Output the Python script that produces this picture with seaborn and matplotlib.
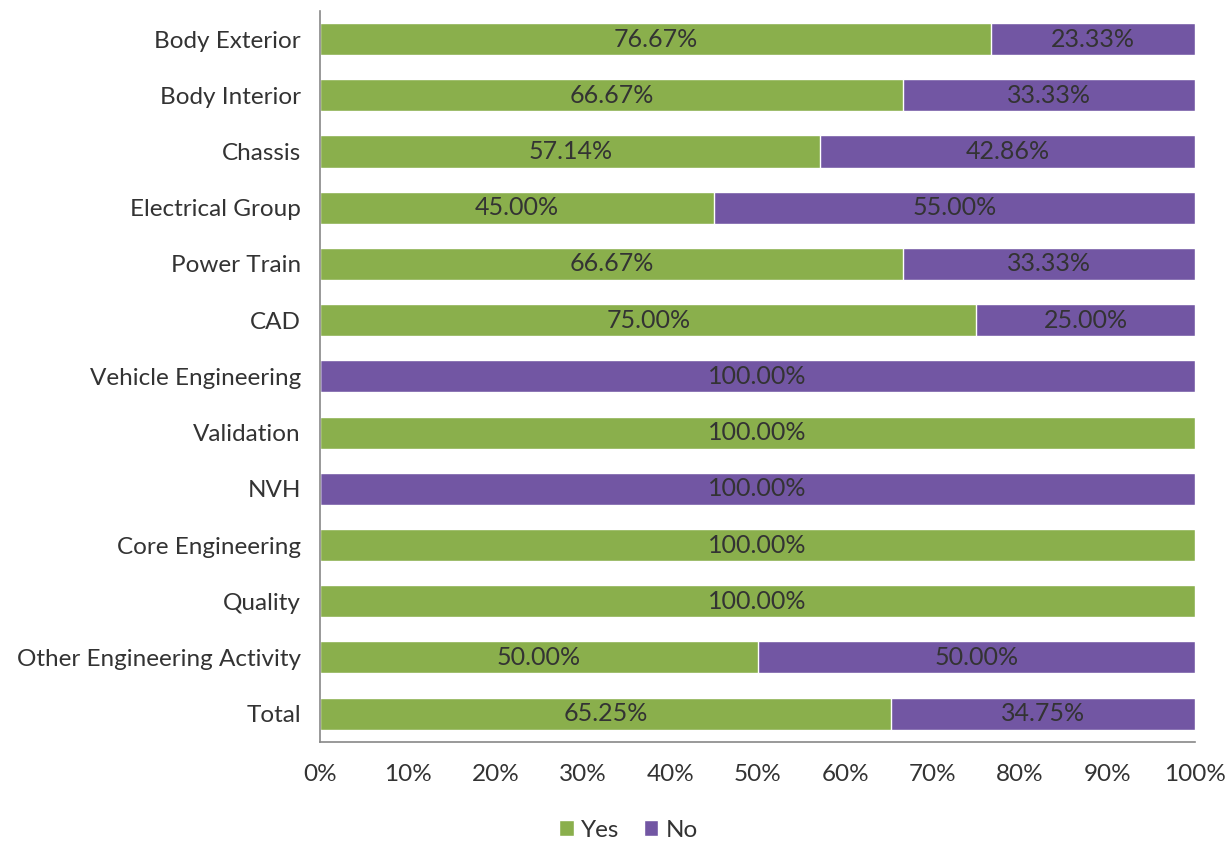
import matplotlib
matplotlib.use("Agg")
import matplotlib.pyplot as plt
import seaborn as sns
import pandas as pd
from matplotlib.patches import Patch

categories = ["Body Exterior", "Body Interior", "Chassis", "Electrical Group",
              "Power Train", "CAD", "Vehicle Engineering", "Validation", "NVH",
              "Core Engineering", "Quality", "Other Engineering Activity", "Total"]
yes_pct = [76.67, 66.67, 57.14, 45.00, 66.67, 75.00, 0.00, 100.00, 0.00,
           100.00, 100.00, 50.00, 65.25]
no_pct = [23.33, 33.33, 42.86, 55.00, 33.33, 25.00, 100.00, 0.00, 100.00,
          0.00, 0.00, 50.00, 34.75]
x_ticks = [0, 10, 20, 30, 40, 50, 60, 70, 80, 90, 100]

GREEN = "#8AAF4C"
PURPLE = "#7256A3"
TEXT = "#333333"

sns.set_theme(style="white")
plt.rcParams["font.family"] = ["Lato", "DejaVu Sans"]

df = pd.DataFrame({"category": categories, "yes": yes_pct, "no": no_pct})
df["total"] = df["yes"] + df["no"]

fig = plt.figure(figsize=(12.32, 8.42), dpi=100)
ax = fig.add_axes([0.26, 0.119, 0.71, 0.868])

# stacked bars: full length in "No" colour, "Yes" part drawn over it
sns.barplot(data=df, y="category", x="total", color=PURPLE, orient="h",
            width=0.57, ax=ax, saturation=1)
sns.barplot(data=df, y="category", x="yes", color=GREEN, orient="h",
            width=0.57, ax=ax, saturation=1)

for i, (y, n) in enumerate(zip(yes_pct, no_pct)):
    if y > 0:
        ax.text(y / 2, i, f"{y:.2f}%", ha="center", va="center",
                fontsize=18, color=TEXT)
    if n > 0:
        ax.text(y + n / 2, i, f"{n:.2f}%", ha="center", va="center",
                fontsize=18, color=TEXT)

ax.set_xlim(0, 100)
ax.set_ylim(len(categories) - 0.5, -0.5)
ax.set_xticks(x_ticks)
ax.set_xticklabels([f"{t}%" for t in x_ticks])
ax.set_xlabel("")
ax.set_ylabel("")
ax.tick_params(axis="x", labelsize=17.5, colors=TEXT, length=0, pad=16)
ax.tick_params(axis="y", labelsize=17.5, colors=TEXT, length=0, pad=14)

for side in ["top", "right"]:
    ax.spines[side].set_visible(False)
for side in ["left", "bottom"]:
    ax.spines[side].set_color("#888888")
    ax.spines[side].set_linewidth(1.2)

handles = [Patch(facecolor=GREEN, label="Yes"), Patch(facecolor=PURPLE, label="No")]
fig.legend(handles=handles, loc="center", bbox_to_anchor=(0.51, 0.014),
           ncol=2, frameon=False, fontsize=17.5, handlelength=0.6,
           handleheight=0.6, handletextpad=0.3, columnspacing=1.0,
           labelcolor=TEXT)

fig.savefig("out.png", dpi=100)
